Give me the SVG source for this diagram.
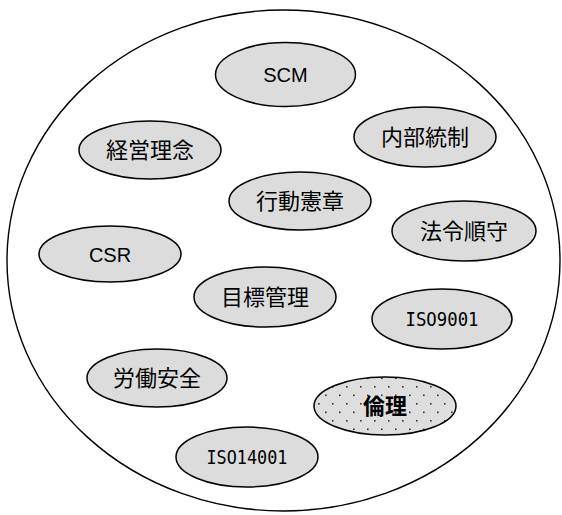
<svg xmlns="http://www.w3.org/2000/svg" width="562" height="515" viewBox="0 0 562 515">
<style>
.outer{fill:#fff;stroke:#000;stroke-width:1.4}
.node{fill:#dcdcdc;stroke:#000;stroke-width:1.5}
.dot{fill:url(#dots);stroke:#000;stroke-width:1.5}
.lat{font-family:"Liberation Sans",Arial,sans-serif;font-size:20px;fill:#000;text-anchor:middle}
.iso{font-family:"DejaVu Sans Mono","Liberation Mono",monospace;font-size:19px;fill:#000;text-anchor:middle}
.jp{font-family:"Noto Sans CJK JP",sans-serif;font-size:22px;fill:#000;text-anchor:middle}
.bold{font-weight:bold}
</style>
<defs>
<pattern id="dots" patternUnits="userSpaceOnUse" width="14" height="17" x="0" y="0">
<rect width="14" height="17" fill="#dedede"/>
<rect x="3" y="3.5" width="1.6" height="1.6" fill="#333"/>
<rect x="10" y="12" width="1.6" height="1.6" fill="#333"/>
</pattern>
</defs>
<ellipse class="outer" cx="283.5" cy="260.5" rx="276.5" ry="250.5"/>
<g id="connectors"/>
<g id="scm"><ellipse class="node" cx="285.5" cy="74.5" rx="70" ry="32"/><text class="lat" x="285.5" y="82">SCM</text></g>
<g id="naibu"><ellipse class="node" cx="425" cy="137" rx="71" ry="30"/><text class="jp" x="425" y="145">内部統制</text></g>
<g id="keiei"><ellipse class="node" cx="150" cy="150" rx="71" ry="29"/><text class="jp" x="150" y="158">経営理念</text></g>
<g id="kodo"><ellipse class="node" cx="300" cy="201" rx="71" ry="29"/><text class="jp" x="300" y="209">行動憲章</text></g>
<g id="horei"><ellipse class="node" cx="464" cy="231" rx="72" ry="30"/><text class="jp" x="464" y="239">法令順守</text></g>
<g id="csr"><ellipse class="node" cx="110" cy="254" rx="71" ry="28"/><text class="lat" x="110" y="261.5">CSR</text></g>
<g id="mokuhyo"><ellipse class="node" cx="265" cy="297" rx="71" ry="30"/><text class="jp" x="265" y="305">目標管理</text></g>
<g id="iso9001"><ellipse class="node" cx="442" cy="319" rx="70" ry="30"/><text class="iso" x="442" y="326" textLength="73" lengthAdjust="spacingAndGlyphs">ISO9001</text></g>
<g id="rodo"><ellipse class="node" cx="157" cy="378" rx="70" ry="29"/><text class="jp" x="157" y="386">労働安全</text></g>
<g id="rinri"><ellipse class="dot" cx="385" cy="406" rx="71" ry="29"/><text class="jp bold" x="385" y="414">倫理</text></g>
<g id="iso14001"><ellipse class="node" cx="247" cy="457" rx="71" ry="30"/><text class="iso" x="247" y="464" textLength="81" lengthAdjust="spacingAndGlyphs">ISO14001</text></g>
</svg>
